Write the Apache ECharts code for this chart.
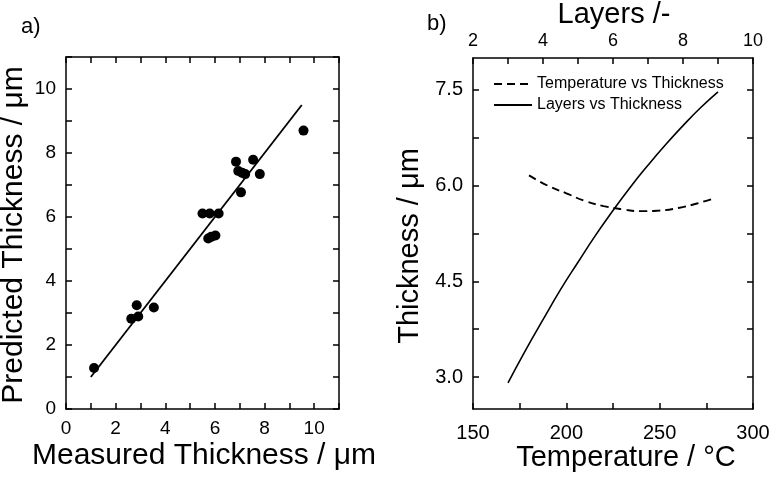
<!DOCTYPE html>
<html>
<head>
<meta charset="utf-8">
<script src="https://cdn.jsdelivr.net/npm/echarts@6/dist/echarts.min.js"></script>
<style>html,body{margin:0;padding:0;background:#fff}#c{width:777px;height:479px}</style>
</head>
<body>
<div id="c"></div>
<script>
// Panel a) data
const measured  = [1.13, 2.63, 2.85, 2.91, 3.54, 5.50, 5.79, 6.15, 5.73, 5.85, 6.02, 6.85, 6.94, 7.10, 7.22, 7.05, 7.54, 7.81, 9.57];
const predicted = [1.28, 2.82, 3.24, 2.89, 3.17, 6.11, 6.11, 6.11, 5.33, 5.38, 5.42, 7.73, 7.44, 7.38, 7.34, 6.77, 7.79, 7.34, 8.70];
const fitX = [1.0, 9.5];
const fitY = [1.0, 9.5];
const axisATicks = [0, 2, 4, 6, 8, 10];

// Panel b) data
const temperature = [180, 190, 200, 210, 220, 230, 240, 250, 260, 270, 280];
const thicknessT  = [6.16, 6.00, 5.88, 5.76, 5.68, 5.63, 5.60, 5.61, 5.65, 5.72, 5.81];
const layers      = [3, 3.5, 4, 4.5, 5, 5.5, 6, 6.5, 7, 7.5, 8, 8.5, 9];
const thicknessL  = [2.91, 3.42, 3.90, 4.37, 4.80, 5.22, 5.61, 5.98, 6.32, 6.64, 6.94, 7.22, 7.47];
const tempTicks   = [150, 200, 250, 300];
const layerTicks  = [2, 4, 6, 8, 10];
const thickLabels = [3.0, 4.5, 6.0, 7.5];
const thickMinor  = [3.0, 3.75, 4.5, 5.25, 6.0, 6.75, 7.5];

const FONT = 'Liberation Sans';
const BLACK = '#000';
const axLine = {show: true, onZero: false, lineStyle: {color: BLACK, width: 1.5}};
const tick = {show: true, inside: true, length: 6, lineStyle: {color: BLACK, width: 1.5}};

const chart = echarts.init(document.getElementById('c'), null, {renderer: 'canvas'});
chart.setOption({
  animation: false,
  backgroundColor: '#fff',
  textStyle: {fontFamily: FONT},
  grid: [
    {left: 66, top: 57, width: 273, height: 352, containLabel: false},
    {left: 473, top: 58, width: 280, height: 351, containLabel: false}
  ],
  xAxis: [
    {gridIndex: 0, type: 'value', position: 'bottom', min: 0, max: 11, interval: 1,
     axisLine: axLine, axisTick: tick, splitLine: {show: false},
     axisLabel: {color: BLACK, fontSize: 19, fontFamily: FONT, margin: 10,
       formatter: v => axisATicks.indexOf(v) >= 0 ? String(v) : ''}},
    {gridIndex: 0, type: 'value', position: 'top', min: 0, max: 11, interval: 1,
     axisLine: axLine, axisTick: tick, splitLine: {show: false}, axisLabel: {show: false}},
    {gridIndex: 1, type: 'value', position: 'bottom', min: 150, max: 300, interval: 25,
     axisLine: axLine, axisTick: tick, splitLine: {show: false},
     axisLabel: {color: BLACK, fontSize: 20, fontFamily: FONT, margin: 14,
       formatter: v => tempTicks.indexOf(v) >= 0 ? String(v) : ''}},
    {gridIndex: 1, type: 'value', position: 'top', min: 2, max: 10, interval: 1,
     axisLine: axLine, axisTick: tick, splitLine: {show: false},
     axisLabel: {color: BLACK, fontSize: 18, fontFamily: FONT, margin: 8,
       formatter: v => layerTicks.indexOf(v) >= 0 ? String(v) : ''}}
  ],
  yAxis: [
    {gridIndex: 0, type: 'value', position: 'left', min: 0, max: 11, interval: 1,
     axisLine: axLine, axisTick: tick, splitLine: {show: false},
     axisLabel: {color: BLACK, fontSize: 19, fontFamily: FONT, margin: 10,
       formatter: v => axisATicks.indexOf(v) >= 0 ? String(v) : ''}},
    {gridIndex: 0, type: 'value', position: 'right', min: 0, max: 11, interval: 1,
     axisLine: axLine, axisTick: tick, splitLine: {show: false}, axisLabel: {show: false}},
    {gridIndex: 1, type: 'value', position: 'left', min: 2.5, max: 8,
     axisLine: axLine, axisTick: Object.assign({}, tick, {customValues: thickMinor}),
     splitLine: {show: false},
     axisLabel: {color: BLACK, fontSize: 20, fontFamily: FONT, margin: 10,
       customValues: thickLabels, formatter: v => Number(v).toFixed(1)}},
    {gridIndex: 1, type: 'value', position: 'right', min: 2.5, max: 8,
     axisLine: axLine, axisTick: Object.assign({}, tick, {customValues: thickMinor}),
     splitLine: {show: false}, axisLabel: {show: false}}
  ],
  legend: {
    show: true, orient: 'vertical', left: 488, top: 71,
    itemWidth: 38, itemHeight: 14, itemGap: 5,
    itemStyle: {color: 'rgba(0,0,0,0)', borderColor: 'rgba(0,0,0,0)', borderWidth: 0, opacity: 0},
    textStyle: {color: BLACK, fontSize: 16, fontFamily: FONT},
    data: ['Temperature vs Thickness', 'Layers vs Thickness']
  },
  series: [
    {type: 'scatter', xAxisIndex: 0, yAxisIndex: 0, symbol: 'circle', symbolSize: 10,
     itemStyle: {color: BLACK, opacity: 1}, data: measured.map((x, i) => [x, predicted[i]])},
    {type: 'line', xAxisIndex: 0, yAxisIndex: 0, symbol: 'none',
     lineStyle: {color: BLACK, width: 1.8}, data: fitX.map((x, i) => [x, fitY[i]])},
    {name: 'Temperature vs Thickness', type: 'line', xAxisIndex: 2, yAxisIndex: 2,
     symbol: 'none', smooth: true, itemStyle: {color: BLACK},
     lineStyle: {color: BLACK, width: 1.9, type: [8, 5]},
     data: temperature.map((x, i) => [x, thicknessT[i]])},
    {name: 'Layers vs Thickness', type: 'line', xAxisIndex: 3, yAxisIndex: 2,
     symbol: 'none', smooth: true, itemStyle: {color: BLACK},
     lineStyle: {color: BLACK, width: 1.6},
     data: layers.map((x, i) => [x, thicknessL[i]])}
  ],
  graphic: [
    {type: 'text', left: 21, top: 16, style: {text: 'a)', fontSize: 22, fontFamily: FONT, fill: BLACK}},
    {type: 'text', left: 427, top: 13, style: {text: 'b)', fontSize: 22, fontFamily: FONT, fill: BLACK}},
    {type: 'text', x: 14, y: 235, rotation: Math.PI / 2,
     style: {text: 'Predicted Thickness / μm', fontSize: 30, fontFamily: FONT, fill: BLACK,
             align: 'center', verticalAlign: 'middle'}},
    {type: 'text', x: 204, y: 456,
     style: {text: 'Measured Thickness / μm', fontSize: 30, fontFamily: FONT, fill: BLACK,
             align: 'center', verticalAlign: 'middle'}},
    {type: 'text', x: 410, y: 246, rotation: Math.PI / 2,
     style: {text: 'Thickness / μm', fontSize: 29, fontFamily: FONT, fill: BLACK,
             align: 'center', verticalAlign: 'middle'}},
    {type: 'text', x: 626, y: 458,
     style: {text: 'Temperature / °C', fontSize: 29, fontFamily: FONT, fill: BLACK,
             align: 'center', verticalAlign: 'middle'}},
    {type: 'text', x: 614, y: 15,
     style: {text: 'Layers /-', fontSize: 29, fontFamily: FONT, fill: BLACK,
             align: 'center', verticalAlign: 'middle'}}
  ]
});
</script>
</body>
</html>
